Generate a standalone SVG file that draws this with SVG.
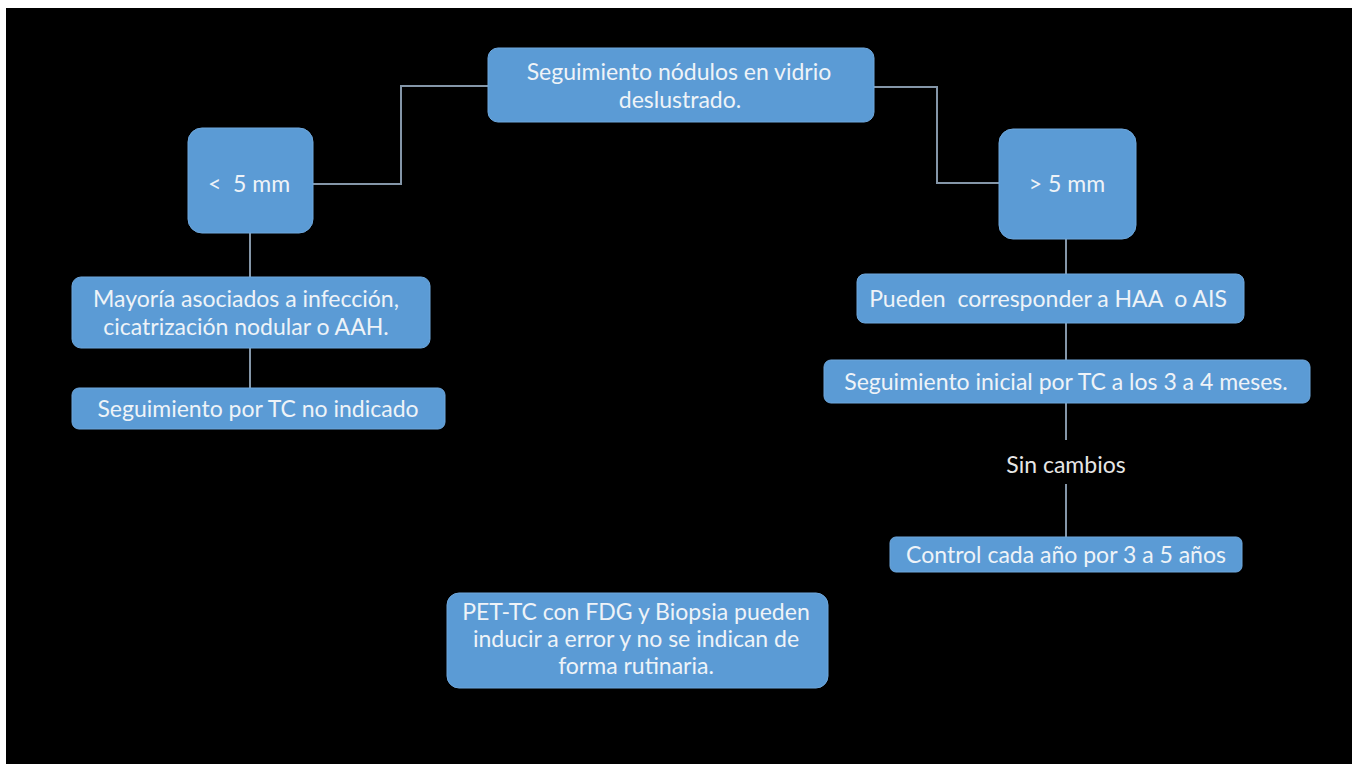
<svg xmlns="http://www.w3.org/2000/svg" width="1352" height="764" viewBox="0 0 1352 764">
<style>
.box{fill:#5b9bd5;stroke:#6ea7dc;stroke-width:1}
.t{font-family:Lato,"Open Sans",sans-serif;font-size:23px;fill:#eef3f8;text-anchor:middle;white-space:pre}
.s{font-family:Lato,"Open Sans",sans-serif;font-size:23px;fill:#e6e6e6;text-anchor:middle}
.c{fill:none;stroke:#8496a8;stroke-width:2}
</style>
<rect x="0" y="0" width="1352" height="764" fill="#ffffff"/>
<rect x="6" y="8" width="1346" height="756" fill="#000000"/>
<g id="connectors">
<polyline class="c" points="313,184 401,184 401,86 488,86"/>
<polyline class="c" points="874,87 937,87 937,183 999,183"/>
<line class="c" x1="250" y1="233" x2="250" y2="277"/>
<line class="c" x1="250" y1="348" x2="250" y2="388"/>
<line class="c" x1="1066" y1="239" x2="1066" y2="274"/>
<line class="c" x1="1066" y1="323" x2="1066" y2="360"/>
<line class="c" x1="1066" y1="403" x2="1066" y2="440"/>
<line class="c" x1="1066" y1="484" x2="1066" y2="537"/>
</g>
<g id="n-root">
<rect class="box" x="488" y="48" width="386" height="74" rx="10"/>
<text class="t" x="679" y="80">Seguimiento nódulos en vidrio</text>
<text class="t" x="680" y="108">deslustrado.</text>
</g>
<g id="n-small">
<rect class="box" x="188" y="128" width="125" height="105" rx="14"/>
<text class="t" x="249" y="192" xml:space="preserve">&lt;  5 mm</text>
</g>
<g id="n-large">
<rect class="box" x="999" y="129" width="137" height="110" rx="14"/>
<text class="t" x="1067" y="192">&gt; 5 mm</text>
</g>
<g id="n-mayoria">
<rect class="box" x="72" y="277" width="358" height="71" rx="9"/>
<text class="t" x="246" y="307">Mayoría asociados a infección,</text>
<text class="t" x="246" y="335">cicatrización nodular o AAH.</text>
</g>
<g id="n-noindicado">
<rect class="box" x="72" y="388" width="373" height="41" rx="7"/>
<text class="t" x="258" y="417">Seguimiento por TC no indicado</text>
</g>
<g id="n-pueden">
<rect class="box" x="857" y="274" width="387" height="49" rx="8"/>
<text class="t" x="1048" y="307" xml:space="preserve">Pueden  corresponder a HAA  o AIS</text>
</g>
<g id="n-inicial">
<rect class="box" x="824" y="360" width="486" height="43" rx="7"/>
<text class="t" x="1066" y="390">Seguimiento inicial por TC a los 3 a 4 meses.</text>
</g>
<g id="l-sincambios">
<text class="s" x="1066" y="473">Sin cambios</text>
</g>
<g id="n-control">
<rect class="box" x="890" y="537" width="352" height="35" rx="6"/>
<text class="t" x="1066" y="563">Control cada año por 3 a 5 años</text>
</g>
<g id="n-pet">
<rect class="box" x="447" y="593" width="381" height="95" rx="12"/>
<text class="t" x="636" y="620">PET-TC con FDG y Biopsia pueden</text>
<text class="t" x="636" y="647">inducir a error y no se indican de</text>
<text class="t" x="636" y="674">forma rutinaria.</text>
</g>
</svg>
